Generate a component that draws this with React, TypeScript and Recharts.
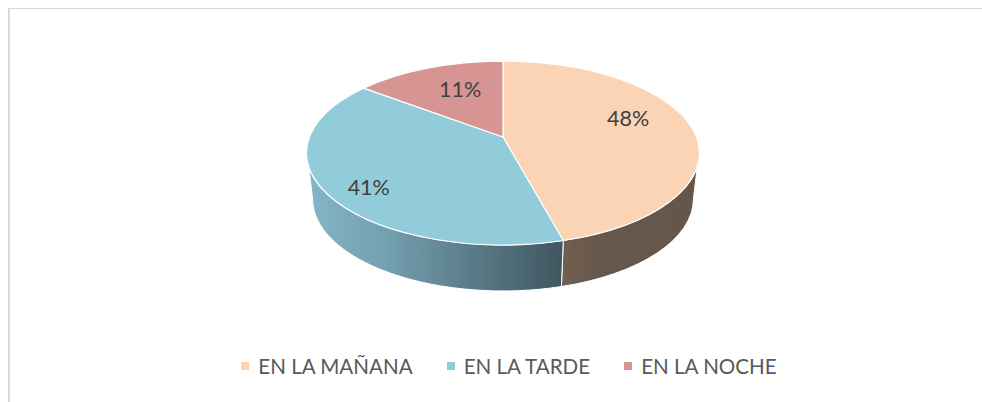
import { PieChart, Pie, Legend } from "recharts";

const categories = ["EN LA MAÑANA", "EN LA TARDE", "EN LA NOCHE"];
const values = [48, 41, 11];
const colors = ["#FBD4B6", "#92CBDA", "#D69493"];

const data = categories.map((name, i) => ({ name, value: values[i], fill: colors[i] }));

const FONT = "Lato, sans-serif";
const SQUASH = 0.468; // flattening of the tilted disc
const APEX = 0.174; // the wedges meet above the middle of the ellipse
const DEPTH = 46;
const BASE = 0.969; // far side of the wall is a bit narrower
const WALL_FROM = 98.7;
const WALL_TO = 261.3;
const LABEL_SHIFT = [
  [-22, -31],
  [1, 7],
  [7, 1],
];

const rad = (d: number) => (d * Math.PI) / 180;

// 3D view foreshortening, degrees clockwise from 12 o'clock
const warp = (t: number) => t - 32.3 * Math.sin(rad(t)) + 26.6 * Math.sin(rad(2 * t));

const Slice3D = (props: any) => {
  const { cx, cy, outerRadius, startAngle, endAngle, fill } = props;
  const rx = outerRadius;
  const ry = outerRadius * SQUASH;
  const from = warp(90 - startAngle);
  const to = warp(90 - endAngle);

  const top = (a: number) => [cx + rx * Math.sin(rad(a)), cy - ry * Math.cos(rad(a))];
  const low = (a: number) => {
    const b = a <= WALL_FROM ? 90 : a >= WALL_TO ? 270 : a;
    return [cx + rx * BASE * Math.sin(rad(b)), cy + DEPTH - ry * Math.cos(rad(b))];
  };

  const [x1, y1] = top(from);
  const [x2, y2] = top(to);
  const large = to - from > 180 ? 1 : 0;
  const face = `M${cx},${cy - APEX * ry} L${x1},${y1} A${rx},${ry} 0 ${large} 1 ${x2},${y2} Z`;

  const a = Math.max(from, WALL_FROM);
  const b = Math.min(to, WALL_TO);
  let wall = "";
  if (a < b) {
    const [tx1, ty1] = top(a);
    const [tx2, ty2] = top(b);
    const [lx2, ly2] = low(b);
    const [lx1, ly1] = low(a);
    wall = `M${tx1},${ty1} A${rx},${ry} 0 0 1 ${tx2},${ty2} L${lx2},${ly2} A${rx * BASE},${ry} 0 0 0 ${lx1},${ly1} Z`;
  }

  const id = `wall-${fill.slice(1)}`;
  const isPeach = fill === colors[0];

  return (
    <g>
      <defs>
        <linearGradient id={id} x1="0" y1="0" x2="1" y2="0">
          <stop offset="0" stopColor={isPeach ? "#725E4F" : "#84B5C6"} />
          <stop offset="0.3" stopColor={isPeach ? "#66574A" : "#74A0B0"} />
          <stop offset="1" stopColor={isPeach ? "#655649" : "#3F565F"} />
        </linearGradient>
      </defs>
      {wall && <path d={wall} fill={`url(#${id})`} stroke="#fff" strokeWidth={1} />}
      <path d={face} fill={fill} stroke="#fff" strokeWidth={1.2} strokeLinejoin="round" />
    </g>
  );
};

const renderLabel = (props: any) => {
  const { cx, cy, midAngle, outerRadius, value, index } = props;
  const [dx, dy] = LABEL_SHIFT[index];
  const x = cx + 0.75 * outerRadius * Math.cos(rad(midAngle)) + dx;
  const y = cy - 0.75 * outerRadius * SQUASH * Math.sin(rad(midAngle)) + dy;
  return (
    <text x={x} y={y} fill="#404040" fontSize={21.5} fontFamily={FONT} textAnchor="middle" dominantBaseline="central">
      {value}%
    </text>
  );
};

const renderLegend = (props: any) => (
  <div style={{ display: "flex", justifyContent: "center", alignItems: "center", fontFamily: FONT, fontSize: 20.6, color: "#595959", paddingLeft: 36 }}>
    {(props.payload || []).map((item: any, i: number) => (
      <div key={item.value} style={{ display: "flex", alignItems: "center", marginLeft: i ? 34 : 0 }}>
        <span style={{ width: 8, height: 8, background: colors[i], marginRight: 9 }} />
        <span>{item.value}</span>
      </div>
    ))}
  </div>
);

export default function App() {
  return (
    <div style={{ position: "absolute", left: 0, top: 0, width: 982, height: 402, background: "#fff", overflow: "hidden" }}>
      <div style={{ position: "absolute", left: 8, top: 8, right: 0, bottom: 0, borderLeft: "2px solid #D9D9D9", borderTop: "1px solid #D9D9D9" }} />
      <PieChart width={982} height={402} margin={{ top: 0, right: 0, bottom: 0, left: 0 }} style={{ position: "absolute", left: 0, top: 0 }}>
        <Pie
          data={data}
          dataKey="value"
          nameKey="name"
          cx={503}
          cy={153}
          outerRadius={196.5}
          startAngle={90}
          endAngle={-270}
          shape={Slice3D}
          label={renderLabel}
          labelLine={false}
          isAnimationActive={false}
        />
        <Legend itemSorter={null} content={renderLegend} wrapperStyle={{ position: "absolute", left: 0, top: 354, width: 982 }} />
      </PieChart>
    </div>
  );
}
